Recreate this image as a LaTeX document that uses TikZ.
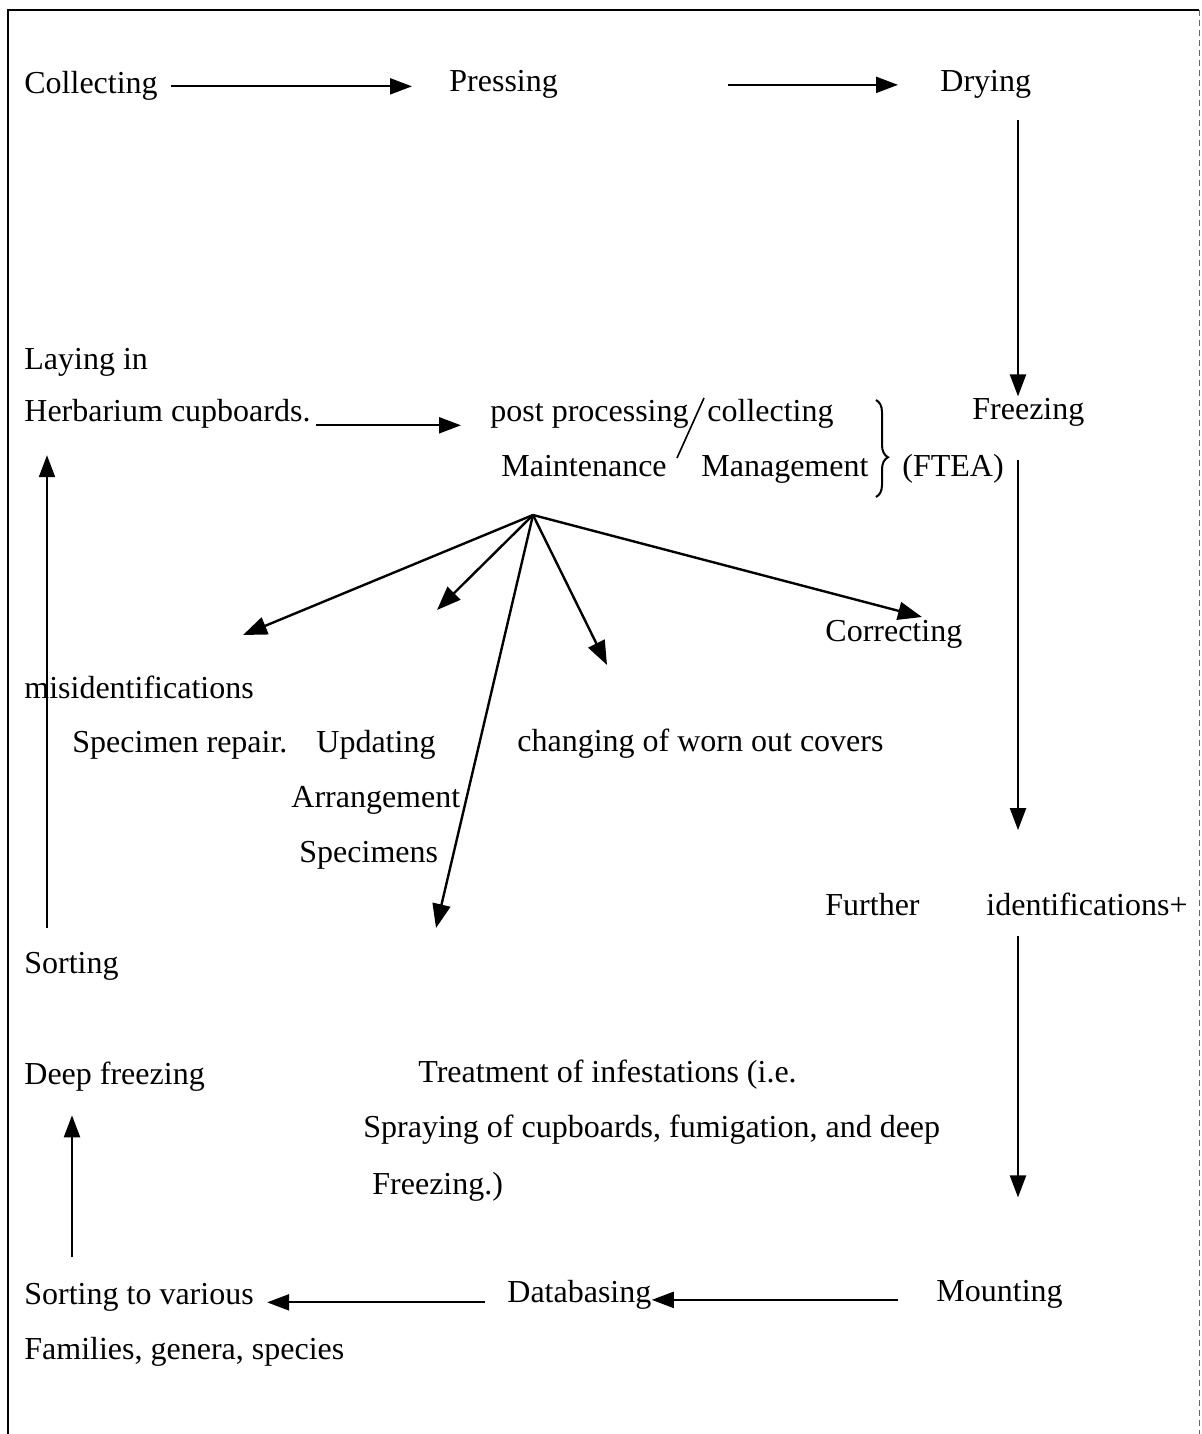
\documentclass[tikz,border=0pt]{standalone}
\usepackage{fontspec}
\setmainfont{Liberation Serif}
\usepackage{tikz}
\usetikzlibrary{arrows.meta, decorations.pathreplacing}

\begin{document}
\begin{tikzpicture}[
    x=0.5pt, y=-0.5pt,
    lbl/.style={anchor=base west, inner sep=0pt, font=\fontsize{16}{19}\selectfont},
    flow/.style={line width=1.1pt, -{Triangle[length=11pt, width=8pt]}},
    fan/.style={line width=1.2pt, -{Triangle[length=12pt, width=9pt]}}
]
    \useasboundingbox (0,0) rectangle (1202,1434);
    \draw[line width=0.8pt] (8,1434) -- (8,10) -- (1199,10);
    \draw[line width=0.4pt, densely dashed, black!60] (1199,10) -- (1199,1434);

    \coordinate (rail) at (1018,0);
    \coordinate (upA) at (72,0);
    \coordinate (upB) at (47,0);

    \node[lbl] (coll) at (24,94) {Collecting};
    \node[lbl] (press) at (449,92) {Pressing};
    \node[lbl] (dry) at (940,91) {Drying};

    \node[lbl] (lay) at (24,369) {Laying in};
    \node[lbl] (herb) at (24,421) {Herbarium cupboards.};
    \node[lbl] (post) at (490,421) {post processing};
    \node[lbl] (colg) at (707,421) {collecting};
    \node[lbl] (maint) at (501,476) {Maintenance};
    \node[lbl] (mgmt) at (701,476) {Management};
    \node[lbl] (ftea) at (902,476) {(FTEA)};
    \node[lbl] (frz) at (972,419) {Freezing};

    \node[lbl] (corr) at (825,641) {Correcting};
    \node[lbl] (misid) at (24,698) {misidentifications};
    \node[lbl] (repair) at (72,752) {Specimen repair.};
    \node[lbl] (upd) at (316,752) {Updating};
    \node[lbl] (covers) at (517,751) {changing of worn out covers};
    \node[lbl] (arrange) at (291,807) {Arrangement};
    \node[lbl] (specs) at (299,862) {Specimens};

    \node[lbl] (further) at (825,915) {Further};
    \node[lbl] (ident) at (986,915) {identifications+};
    \node[lbl] (sortg) at (24,973) {Sorting};

    \node[lbl] (deep) at (24,1084) {Deep freezing};
    \node[lbl] (treat) at (418,1082) {Treatment of infestations (i.e.};
    \node[lbl] (spray) at (363,1137) {Spraying of cupboards, fumigation, and deep};
    \node[lbl] (frzb) at (372,1194) {Freezing.)};

    \node[lbl] (sortv) at (24,1304) {Sorting to various};
    \node[lbl] (dbase) at (507,1302) {Databasing};
    \node[lbl] (mount) at (936,1301) {Mounting};
    \node[lbl] (fam) at (24,1359) {Families, genera, species};

    \draw[line width=0.8pt] (704,398) -- (677,458);
    \draw[line width=1pt, decorate, decoration={brace, amplitude=6pt, aspect=0.59}]
        (876,400) -- (876,497);

    \draw[flow, shorten <=6.5pt, shorten >=18.5pt] (coll.east) -- (coll.east -| press.west);
    \draw[flow, shorten <=85pt, shorten >=21pt] (press.east) -- (press.east -| dry.west);
    \draw[flow, shorten <=11pt, shorten >=0.5pt] (dry.south -| rail) -- (frz.north -| rail);
    \draw[flow, shorten <=17pt, shorten >=31pt] (frz.south -| rail) -- (ident.north -| rail);
    \draw[flow, shorten <=10pt, shorten >=41pt] (ident.south -| rail) -- (mount.north -| rail);
    \draw[flow, shorten <=19pt, shorten >=0pt] ([yshift=-3pt]mount.west) -- ([yshift=-3pt]mount.west -| dbase.east);
    \draw[flow, shorten <=11pt, shorten >=6.5pt] ([yshift=-4pt]dbase.west) -- ([yshift=-4pt]dbase.west -| sortv.east);
    \draw[flow, shorten <=12.5pt, shorten >=12pt] (sortv.north -| upA) -- (deep.south -| upA);
    \draw[flow, shorten <=11.5pt, shorten >=13.5pt] (sortg.north -| upB) -- (herb.south -| upB);
    \draw[flow, shorten <=2.5pt, shorten >=14.5pt] ([yshift=-6pt]herb.east) -- ([yshift=-6pt]herb.east -| post.west);

    \coordinate (hub) at (533,515);
    \coordinate (tipA) at (243,635);
    \coordinate (tipB) at (437,610);
    \coordinate (tipC) at (436,928);
    \coordinate (tipD) at (607,665);
    \coordinate (tipE) at (922,617);
    \foreach \t in {tipA, tipB, tipC, tipD, tipE}
        \draw[fan] (hub) -- (\t);
\end{tikzpicture}
\end{document}
